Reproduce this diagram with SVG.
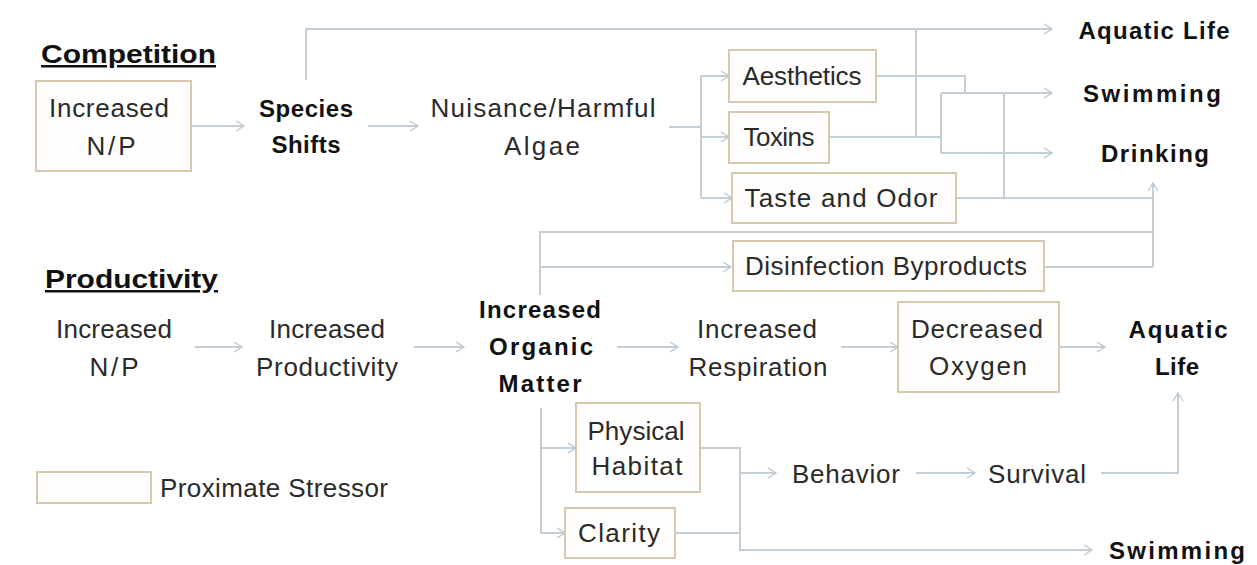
<svg xmlns="http://www.w3.org/2000/svg" width="1257" height="565" viewBox="0 0 1257 565">
<defs>
<marker id="arr" markerWidth="12" markerHeight="12" refX="9" refY="6" orient="auto" markerUnits="userSpaceOnUse">
<path d="M1,1 L9,6 L1,11" fill="none" stroke="#b9c6cf" stroke-width="1.3"/>
</marker>
<style>
.bg{fill:#ffffff}
.box{fill:#fffefc;stroke:#d8c8b0;stroke-width:2}
.ln{fill:none;stroke:#c3ced7;stroke-width:2}
.ar{fill:none;stroke:#c3ced7;stroke-width:2;marker-end:url(#arr)}
.t{font-family:"Liberation Sans",Arial,sans-serif;font-size:26px;fill:#2a2a2a;text-anchor:middle}
.b{font-family:"Liberation Sans",Arial,sans-serif;font-size:24px;font-weight:bold;fill:#111;text-anchor:middle}
.h{font-family:"Liberation Sans",Arial,sans-serif;font-size:25px;font-weight:bold;fill:#111;text-decoration:underline}
</style>
</defs>
<rect class="bg" x="0" y="0" width="1257" height="565"/>

<g id="connectors">
<path class="ar" d="M191,126 H244"/>
<path class="ar" d="M368,126 H418"/>
<path class="ar" d="M306,80 V29 H1052"/>
<path class="ln" d="M669,127 H701 M701,76 V198"/>
<path class="ar" d="M701,76 H729"/>
<path class="ar" d="M701,137 H729"/>
<path class="ar" d="M701,198 H732"/>
<path class="ln" d="M876,76 H965 V93"/>
<path class="ln" d="M829,137 H941 M916,29 V137"/>
<path class="ln" d="M941,93 V153"/>
<path class="ar" d="M941,93 H1052"/>
<path class="ar" d="M941,153 H1052"/>
<path class="ln" d="M956,198 H1153 M1004,93 V198"/>
<path class="ar" d="M1153,267 V183"/>
<path class="ln" d="M540,295 V232 H1153"/>
<path class="ar" d="M540,267 H731"/>
<path class="ln" d="M1044,267 H1153"/>
<path class="ar" d="M195,347 H242"/>
<path class="ar" d="M414,347 H464"/>
<path class="ar" d="M617,347 H678"/>
<path class="ar" d="M841,347 H898"/>
<path class="ar" d="M1059,347 H1105"/>
<path class="ln" d="M541,408 V533"/>
<path class="ar" d="M541,448 H576"/>
<path class="ar" d="M541,533 H565"/>
<path class="ar" d="M700,448 H740 V550 H1092"/>
<path class="ar" d="M740,473 H776"/>
<path class="ln" d="M675,533 H740"/>
<path class="ar" d="M916,473 H975"/>
<path class="ar" d="M1101,473 H1178 V393"/>
</g>

<g id="heading-competition"><text class="h" x="41" y="63" textLength="175" lengthAdjust="spacingAndGlyphs">Competition</text></g>
<g id="heading-productivity"><text class="h" x="45" y="288" textLength="173" lengthAdjust="spacingAndGlyphs">Productivity</text></g>

<g id="n-increased-np-top">
<rect class="box" x="36" y="81" width="155" height="90"/>
<text class="t" x="109" y="117" textLength="120">Increased</text>
<text class="t" x="111" y="155" textLength="49">N/P</text>
</g>
<g id="n-species-shifts">
<text class="b" x="306" y="117" textLength="94">Species</text>
<text class="b" x="306" y="153" textLength="69">Shifts</text>
</g>
<g id="n-algae">
<text class="t" x="543" y="117" textLength="225">Nuisance/Harmful</text>
<text class="t" x="542" y="155" textLength="76">Algae</text>
</g>
<g id="n-aesthetics">
<rect class="box" x="729" y="50" width="147" height="52"/>
<text class="t" x="802" y="85" textLength="119">Aesthetics</text>
</g>
<g id="n-toxins">
<rect class="box" x="729" y="112" width="100" height="51"/>
<text class="t" x="779" y="146" textLength="71">Toxins</text>
</g>
<g id="n-taste">
<rect class="box" x="732" y="173" width="224" height="50"/>
<text class="t" x="841" y="207" textLength="193">Taste and Odor</text>
</g>
<g id="n-disinfection">
<rect class="box" x="733" y="241" width="311" height="50"/>
<text class="t" x="886" y="275" textLength="282">Disinfection Byproducts</text>
</g>
<g id="n-aquatic-top"><text class="b" x="1154" y="39" textLength="151">Aquatic Life</text></g>
<g id="n-swimming-top"><text class="b" x="1152" y="102" textLength="138">Swimming</text></g>
<g id="n-drinking"><text class="b" x="1155" y="162" textLength="108">Drinking</text></g>

<g id="n-increased-np-low">
<text class="t" x="114" y="338" textLength="116">Increased</text>
<text class="t" x="114" y="376" textLength="49">N/P</text>
</g>
<g id="n-productivity">
<text class="t" x="327" y="338" textLength="116">Increased</text>
<text class="t" x="327" y="376" textLength="142">Productivity</text>
</g>
<g id="n-organic">
<text class="b" x="540" y="318" textLength="122">Increased</text>
<text class="b" x="541" y="355" textLength="104">Organic</text>
<text class="b" x="540" y="392" textLength="83">Matter</text>
</g>
<g id="n-respiration">
<text class="t" x="757" y="338" textLength="120">Increased</text>
<text class="t" x="758" y="376" textLength="139">Respiration</text>
</g>
<g id="n-oxygen">
<rect class="box" x="898" y="302" width="161" height="90"/>
<text class="t" x="977" y="338" textLength="132">Decreased</text>
<text class="t" x="978" y="375" textLength="98">Oxygen</text>
</g>
<g id="n-aquatic-low">
<text class="b" x="1178" y="338" textLength="99">Aquatic</text>
<text class="b" x="1177" y="375" textLength="44">Life</text>
</g>
<g id="n-habitat">
<rect class="box" x="576" y="403" width="124" height="89"/>
<text class="t" x="636" y="440" textLength="97">Physical</text>
<text class="t" x="637" y="475" textLength="91">Habitat</text>
</g>
<g id="n-clarity">
<rect class="box" x="565" y="508" width="110" height="50"/>
<text class="t" x="619" y="542" textLength="82">Clarity</text>
</g>
<g id="n-behavior"><text class="t" x="846" y="483" textLength="108">Behavior</text></g>
<g id="n-survival"><text class="t" x="1037" y="483" textLength="98">Survival</text></g>
<g id="n-swimming-low"><text class="b" x="1177" y="559" textLength="136">Swimming</text></g>

<g id="legend">
<rect class="box" x="37" y="472" width="114" height="31"/>
<text class="t" x="274" y="497" textLength="228">Proximate Stressor</text>
</g>
</svg>
